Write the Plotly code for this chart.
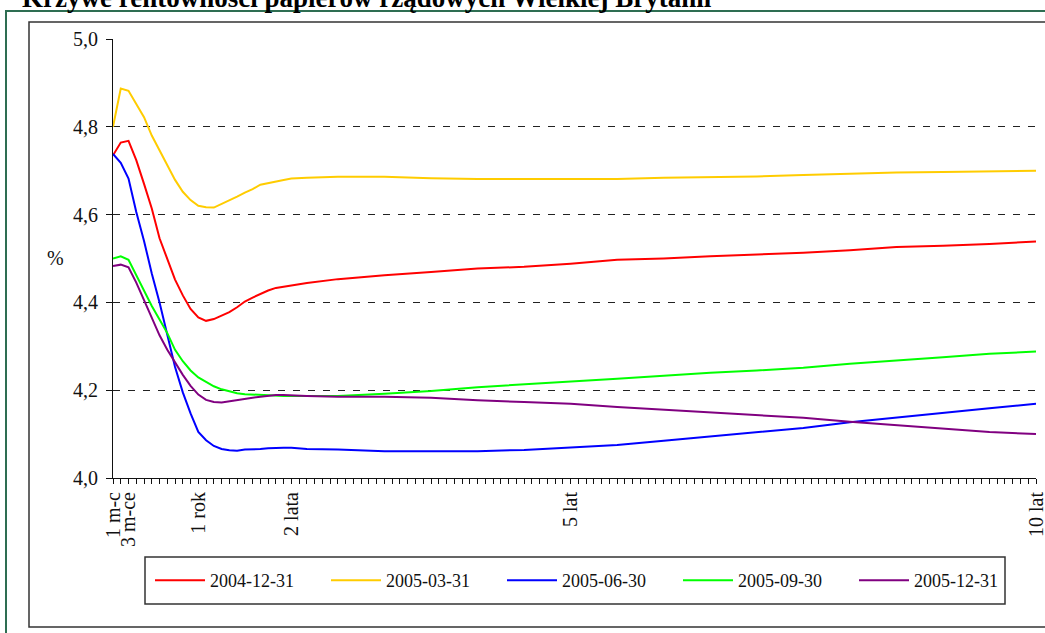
import plotly.graph_objects as go

months = [1, 2, 3, 4, 5, 6, 7, 8, 9, 10, 11, 12, 13, 14, 15, 16, 17, 18, 19, 20,
          21, 22, 23, 24, 26, 30, 36, 42, 48, 54, 60, 66, 72, 78, 84, 90, 96, 102,
          108, 114, 120]

y_2004_12_31 = [4.735, 4.764, 4.768, 4.724, 4.670, 4.614, 4.546, 4.500, 4.452, 4.416,
                4.385, 4.366, 4.358, 4.362, 4.370, 4.378, 4.389, 4.402, 4.411, 4.419,
                4.427, 4.433, 4.436, 4.438, 4.444, 4.453, 4.462, 4.469, 4.477, 4.481,
                4.488, 4.497, 4.500, 4.505, 4.509, 4.513, 4.519, 4.526, 4.529, 4.533,
                4.539]
y_2005_03_31 = [4.800, 4.887, 4.882, 4.852, 4.822, 4.780, 4.747, 4.713, 4.679, 4.652,
                4.633, 4.620, 4.617, 4.616, 4.624, 4.633, 4.641, 4.650, 4.658, 4.668,
                4.672, 4.676, 4.679, 4.682, 4.684, 4.686, 4.686, 4.683, 4.681, 4.681,
                4.681, 4.681, 4.684, 4.685, 4.687, 4.690, 4.693, 4.696, 4.697, 4.698,
                4.700]
y_2005_06_30 = [4.738, 4.718, 4.682, 4.606, 4.540, 4.466, 4.400, 4.323, 4.253, 4.195,
                4.147, 4.105, 4.086, 4.073, 4.066, 4.063, 4.062, 4.065, 4.065, 4.066,
                4.068, 4.069, 4.069, 4.069, 4.066, 4.065, 4.061, 4.061, 4.061, 4.064,
                4.069, 4.075, 4.085, 4.095, 4.104, 4.114, 4.127, 4.138, 4.149, 4.159,
                4.169]
y_2005_09_30 = [4.500, 4.505, 4.497, 4.462, 4.425, 4.392, 4.361, 4.330, 4.292, 4.266,
                4.245, 4.229, 4.219, 4.209, 4.202, 4.197, 4.193, 4.191, 4.190, 4.189,
                4.188, 4.188, 4.187, 4.187, 4.187, 4.187, 4.192, 4.198, 4.207, 4.213,
                4.219, 4.226, 4.233, 4.240, 4.245, 4.251, 4.260, 4.267, 4.275, 4.283,
                4.288]
y_2005_12_31 = [4.483, 4.486, 4.480, 4.445, 4.405, 4.365, 4.325, 4.292, 4.262, 4.235,
                4.210, 4.190, 4.178, 4.173, 4.172, 4.175, 4.178, 4.180, 4.183, 4.185,
                4.187, 4.189, 4.189, 4.188, 4.187, 4.185, 4.185, 4.183, 4.177, 4.173,
                4.169, 4.162, 4.156, 4.150, 4.144, 4.137, 4.128, 4.120, 4.112, 4.105,
                4.100]

series_names = ["2004-12-31", "2005-03-31", "2005-06-30", "2005-09-30", "2005-12-31"]
series_values = [y_2004_12_31, y_2005_03_31, y_2005_06_30, y_2005_09_30, y_2005_12_31]
series_colors = ["#FF0000", "#FFCC00", "#0000FF", "#00FF00", "#800080"]

x_tick_months = list(range(1, 121))
x_label_map = {1: "1 m-c", 3: "3 m-ce", 12: "1 rok", 24: "2 lata", 60: "5 lat", 120: "10 lat"}
x_tick_text = [x_label_map.get(m, "") for m in x_tick_months]
y_ticks = [4.0, 4.2, 4.4, 4.6, 4.8, 5.0]

title_text = "Krzywe rentowności papierów rządowych Wielkiej Brytanii"

FONT = "Liberation Serif, Times New Roman, serif"
FS = 20
FS_LEG = 18

fig = go.Figure()
for name, vals, col in zip(series_names, series_values, series_colors):
    fig.add_trace(go.Scatter(x=months, y=vals, mode="lines", name=name,
                             line=dict(color=col, width=2)))

W, H = 1045, 633
L, R, T, B = 113, 9, 39, 155
pw, ph = W - L - R, H - T - B


def px(xp):
    return (xp - L) / pw


def py(yp):
    return (H - B - yp) / ph


fig.update_layout(
    width=W, height=H,
    margin=dict(l=L, r=R, t=T, b=B, autoexpand=False),
    paper_bgcolor="white", plot_bgcolor="white",
    separators=", ",
    font=dict(family=FONT, size=FS, color="#111"),
    showlegend=True,
    legend=dict(orientation="h", x=px(150), y=py(580.5), xanchor="left", yanchor="middle",
                bgcolor="rgba(0,0,0,0)", borderwidth=0, font=dict(family=FONT, size=FS_LEG),
                itemwidth=50, entrywidth=111, entrywidthmode="pixels"),
    xaxis=dict(range=[1, 120], tickmode="array", tickvals=x_tick_months, ticktext=x_tick_text,
               tickangle=-90, ticks="outside", ticklen=5, tickcolor="#111", tickwidth=1,
               ticklabeloverflow="allow",
               showline=True, linecolor="#111", linewidth=1, showgrid=False, zeroline=False,
               tickfont=dict(family=FONT, size=FS)),
    xaxis2=dict(range=[1, 120], overlaying="x", anchor="y", side="bottom", tickmode="array",
                tickvals=x_tick_months, ticks="inside", ticklen=5, tickcolor="#111",
                showticklabels=False, showgrid=False, zeroline=False, showline=False),
    yaxis=dict(range=[4.0, 5.0], tickmode="array", tickvals=y_ticks, tickformat=".1f",
               ticks="outside", ticklen=6, tickcolor="#111", ticklabelstandoff=4,
               showline=True, linecolor="#111", linewidth=1, zeroline=False,
               showgrid=True, gridcolor="#222", gridwidth=1, griddash="7px,8px",
               tickfont=dict(family=FONT, size=FS)),
    yaxis2=dict(range=[4.0, 5.0], overlaying="y", anchor="x", side="left", tickmode="array",
                tickvals=y_ticks, ticks="inside", ticklen=6, tickcolor="#111",
                showticklabels=False, showgrid=False, zeroline=False, showline=False),
    shapes=[
        dict(type="rect", xref="paper", yref="paper", x0=px(6), x1=px(1060), y0=py(650), y1=py(11),
             line=dict(color="#2E6E52", width=2), fillcolor="rgba(0,0,0,0)", layer="below"),
        dict(type="rect", xref="paper", yref="paper", x0=px(29), x1=px(1060), y0=py(627), y1=py(22),
             line=dict(color="#333", width=1.5), fillcolor="rgba(0,0,0,0)", layer="below"),
        dict(type="rect", xref="paper", yref="paper", x0=px(145), x1=px(1005), y0=py(604), y1=py(557),
             line=dict(color="#333", width=1.5), fillcolor="rgba(0,0,0,0)", layer="below"),
    ],
    annotations=[
        dict(text="<b>" + title_text + "</b>", xref="paper", yref="paper", x=px(20), y=py(15),
             xanchor="left", yanchor="bottom", showarrow=False,
             font=dict(family=FONT, size=27, color="#000")),
        dict(text="%", xref="paper", yref="paper", x=px(55), y=py(258), xanchor="center",
             yanchor="middle", showarrow=False, font=dict(family=FONT, size=FS, color="#111")),
    ],
)

fig.write_html("out.html", config={"displayModeBar": False},
               post_script="document.body.style.margin='0px';document.body.style.overflow='hidden';")
